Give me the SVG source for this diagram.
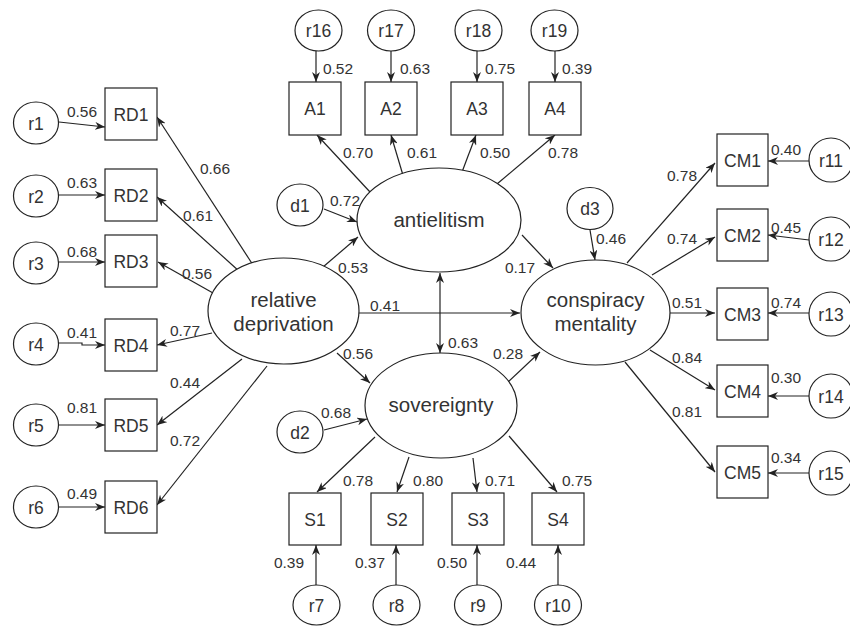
<svg xmlns="http://www.w3.org/2000/svg" width="850" height="627" viewBox="0 0 850 627">
<style>
.b{fill:#fff;stroke:#222;stroke-width:1.2}
.c{fill:none;stroke:#222;stroke-width:1.2;marker-end:url(#a)}
.n{font-family:"Liberation Sans",Arial,sans-serif;font-size:15.5px;fill:#333;text-anchor:middle}
.l{font-family:"Liberation Sans",Arial,sans-serif;font-size:17.5px;fill:#333;text-anchor:middle}
.g{font-family:"Liberation Sans",Arial,sans-serif;font-size:20.5px;fill:#333;text-anchor:middle}
</style>
<defs>
<marker id="a" viewBox="0 0 10 8" refX="10" refY="4" markerWidth="10" markerHeight="8" markerUnits="userSpaceOnUse" orient="auto-start-reverse">
<path d="M0,0 L10,4 L0,8 L3,4 z" fill="#222"/>
</marker>
</defs>
<rect width="850" height="627" fill="#fff"/>
<g id="connectors">
<path class="c" d="M59,122 L105,127"/>
<path class="c" d="M58,195 L105,195"/>
<path class="c" d="M58,262 L105,262"/>
<path class="c" d="M58,343 L82,343 L82,345 L105,345"/>
<path class="c" d="M58,425 L105,425"/>
<path class="c" d="M58,507 L105,507"/>
<path class="c" d="M253,265 L157,117"/>
<path class="c" d="M240,272 L157,197"/>
<path class="c" d="M213,293 L158,262"/>
<path class="c" d="M212,333 L157,345"/>
<path class="c" d="M242,359 L157,425"/>
<path class="c" d="M267,366 L157,505"/>
<path class="c" d="M316,51 L316,82"/>
<path class="c" d="M391,51 L391,82"/>
<path class="c" d="M477,51 L477,82"/>
<path class="c" d="M555,51 L555,82"/>
<path class="c" d="M370,192 L317,135"/>
<path class="c" d="M405,182 L391,135"/>
<path class="c" d="M462,172 L476,135"/>
<path class="c" d="M497,184 L555,135"/>
<path class="c" d="M324,209 L357,222"/>
<path class="c" d="M323,267 L358,237"/>
<path class="c" d="M359,313 L520,313"/>
<path class="c" d="M337,353 L370,383"/>
<path class="c" d="M440,273 L440,353" marker-start="url(#a)"/>
<path class="c" d="M522,235 L553,268"/>
<path class="c" d="M508,382 L540,352"/>
<path class="c" d="M590,230 L595,260"/>
<path class="c" d="M627,263 L715,163"/>
<path class="c" d="M652,275 L715,237"/>
<path class="c" d="M670,313 L715,313"/>
<path class="c" d="M650,350 L715,390"/>
<path class="c" d="M625,362 L715,472"/>
<path class="c" d="M809,161 L768,161"/>
<path class="c" d="M809,240 L768,235"/>
<path class="c" d="M809,313 L768,313"/>
<path class="c" d="M809,396 L768,396"/>
<path class="c" d="M809,473 L768,473"/>
<path class="c" d="M324,430 L367,419"/>
<path class="c" d="M375,437 L317,492"/>
<path class="c" d="M409,457 L397,492"/>
<path class="c" d="M473,458 L477,492"/>
<path class="c" d="M509,436 L557,492"/>
<path class="c" d="M316,585 L316,545"/>
<path class="c" d="M396,585 L396,545"/>
<path class="c" d="M477,585 L477,545"/>
<path class="c" d="M558,585 L558,545"/>
</g>
<g id="labels">
<text class="n" x="82" y="116.5">0.56</text>
<text class="n" x="82" y="187.5">0.63</text>
<text class="n" x="82" y="256.5">0.68</text>
<text class="n" x="82" y="337.5">0.41</text>
<text class="n" x="82" y="412.5">0.81</text>
<text class="n" x="82" y="498.5">0.49</text>
<text class="n" x="215" y="173.5">0.66</text>
<text class="n" x="198" y="220.5">0.61</text>
<text class="n" x="197" y="278.5">0.56</text>
<text class="n" x="185" y="335.5">0.77</text>
<text class="n" x="185" y="387.5">0.44</text>
<text class="n" x="185" y="445.5">0.72</text>
<text class="n" x="338" y="73.5">0.52</text>
<text class="n" x="415" y="73.5">0.63</text>
<text class="n" x="500" y="73.5">0.75</text>
<text class="n" x="577" y="73.5">0.39</text>
<text class="n" x="358" y="157.5">0.70</text>
<text class="n" x="422" y="157.5">0.61</text>
<text class="n" x="495" y="157.5">0.50</text>
<text class="n" x="563" y="157.5">0.78</text>
<text class="n" x="345" y="205.5">0.72</text>
<text class="n" x="353" y="272.5">0.53</text>
<text class="n" x="385" y="310.5">0.41</text>
<text class="n" x="358" y="358.5">0.56</text>
<text class="n" x="463" y="347.5">0.63</text>
<text class="n" x="520" y="272.5">0.17</text>
<text class="n" x="508" y="358.5">0.28</text>
<text class="n" x="611" y="243.5">0.46</text>
<text class="n" x="682" y="180.5">0.78</text>
<text class="n" x="682" y="243.5">0.74</text>
<text class="n" x="687" y="307.5">0.51</text>
<text class="n" x="687" y="362.5">0.84</text>
<text class="n" x="687" y="416.5">0.81</text>
<text class="n" x="786" y="154.5">0.40</text>
<text class="n" x="786" y="232.5">0.45</text>
<text class="n" x="786" y="307.5">0.74</text>
<text class="n" x="786" y="382.5">0.30</text>
<text class="n" x="786" y="462.5">0.34</text>
<text class="n" x="336" y="417.5">0.68</text>
<text class="n" x="358" y="485.5">0.78</text>
<text class="n" x="428" y="485.5">0.80</text>
<text class="n" x="500" y="485.5">0.71</text>
<text class="n" x="577" y="485.5">0.75</text>
<text class="n" x="289" y="567.5">0.39</text>
<text class="n" x="370" y="567.5">0.37</text>
<text class="n" x="452" y="567.5">0.50</text>
<text class="n" x="521" y="567.5">0.44</text>
</g>
<g id="rdep"><ellipse class="b" cx="283.5" cy="311" rx="75.5" ry="53"/><text class="g" x="283.5" y="307">relative</text><text class="g" x="283.5" y="331">deprivation</text></g>
<g id="anti"><ellipse class="b" cx="439" cy="220" rx="82" ry="52"/><text class="g" x="439" y="227">antielitism</text></g>
<g id="sov"><ellipse class="b" cx="441" cy="405.5" rx="76" ry="52.5"/><text class="g" x="441" y="412">sovereignty</text></g>
<g id="consp"><ellipse class="b" cx="595.5" cy="312.5" rx="74.5" ry="52.5"/><text class="g" x="595.5" y="307">conspiracy</text><text class="g" x="595.5" y="331">mentality</text></g>
<g id="RD1"><rect class="b" x="105" y="88" width="52" height="52"/><text class="l" x="131" y="120.5">RD1</text></g>
<g id="RD2"><rect class="b" x="105" y="169" width="52" height="52"/><text class="l" x="131" y="201.5">RD2</text></g>
<g id="RD3"><rect class="b" x="105" y="235" width="52" height="52"/><text class="l" x="131" y="267.5">RD3</text></g>
<g id="RD4"><rect class="b" x="105" y="319" width="52" height="52"/><text class="l" x="131" y="351.5">RD4</text></g>
<g id="RD5"><rect class="b" x="105" y="399" width="52" height="52"/><text class="l" x="131" y="431.5">RD5</text></g>
<g id="RD6"><rect class="b" x="105" y="481" width="52" height="52"/><text class="l" x="131" y="513.5">RD6</text></g>
<g id="A1"><rect class="b" x="289" y="82" width="52" height="53"/><text class="l" x="315" y="115">A1</text></g>
<g id="A2"><rect class="b" x="365" y="82" width="52" height="53"/><text class="l" x="391" y="115">A2</text></g>
<g id="A3"><rect class="b" x="451" y="82" width="52" height="53"/><text class="l" x="477" y="115">A3</text></g>
<g id="A4"><rect class="b" x="529" y="82" width="52" height="53"/><text class="l" x="555" y="115">A4</text></g>
<g id="CM1"><rect class="b" x="717" y="134" width="51" height="52"/><text class="l" x="742.5" y="166.5">CM1</text></g>
<g id="CM2"><rect class="b" x="717" y="209" width="51" height="52"/><text class="l" x="742.5" y="241.5">CM2</text></g>
<g id="CM3"><rect class="b" x="717" y="288" width="51" height="52"/><text class="l" x="742.5" y="320.5">CM3</text></g>
<g id="CM4"><rect class="b" x="717" y="365" width="51" height="52"/><text class="l" x="742.5" y="397.5">CM4</text></g>
<g id="CM5"><rect class="b" x="717" y="446" width="51" height="52"/><text class="l" x="742.5" y="478.5">CM5</text></g>
<g id="S1"><rect class="b" x="289" y="493" width="52" height="52"/><text class="l" x="315" y="525.5">S1</text></g>
<g id="S2"><rect class="b" x="371" y="493" width="52" height="52"/><text class="l" x="397" y="525.5">S2</text></g>
<g id="S3"><rect class="b" x="452" y="493" width="52" height="52"/><text class="l" x="478" y="525.5">S3</text></g>
<g id="S4"><rect class="b" x="532" y="493" width="52" height="52"/><text class="l" x="558" y="525.5">S4</text></g>
<g id="r1"><ellipse class="b" cx="36" cy="123" rx="22.5" ry="21"/><text class="l" x="36" y="129.5">r1</text></g>
<g id="r2"><ellipse class="b" cx="36" cy="196" rx="22.5" ry="21"/><text class="l" x="36" y="202.5">r2</text></g>
<g id="r3"><ellipse class="b" cx="36" cy="263" rx="22.5" ry="21"/><text class="l" x="36" y="269.5">r3</text></g>
<g id="r4"><ellipse class="b" cx="36" cy="344" rx="22.5" ry="21"/><text class="l" x="36" y="350.5">r4</text></g>
<g id="r5"><ellipse class="b" cx="36" cy="425" rx="22.5" ry="21"/><text class="l" x="36" y="431.5">r5</text></g>
<g id="r6"><ellipse class="b" cx="36" cy="507" rx="22.5" ry="21"/><text class="l" x="36" y="513.5">r6</text></g>
<g id="r16"><ellipse class="b" cx="318.5" cy="30.5" rx="23.5" ry="20.5"/><text class="l" x="318.5" y="37">r16</text></g>
<g id="r17"><ellipse class="b" cx="391" cy="30.5" rx="23.5" ry="20.5"/><text class="l" x="391" y="37">r17</text></g>
<g id="r18"><ellipse class="b" cx="478.5" cy="30.5" rx="23.5" ry="20.5"/><text class="l" x="478.5" y="37">r18</text></g>
<g id="r19"><ellipse class="b" cx="554.5" cy="30.5" rx="23.5" ry="20.5"/><text class="l" x="554.5" y="37">r19</text></g>
<g id="r11"><ellipse class="b" cx="831" cy="160" rx="22" ry="22"/><text class="l" x="831" y="166.5">r11</text></g>
<g id="r12"><ellipse class="b" cx="831" cy="239" rx="22" ry="22"/><text class="l" x="831" y="245.5">r12</text></g>
<g id="r13"><ellipse class="b" cx="831" cy="314" rx="22" ry="22"/><text class="l" x="831" y="320.5">r13</text></g>
<g id="r14"><ellipse class="b" cx="831" cy="396" rx="22" ry="22"/><text class="l" x="831" y="402.5">r14</text></g>
<g id="r15"><ellipse class="b" cx="831" cy="473" rx="22" ry="22"/><text class="l" x="831" y="479.5">r15</text></g>
<g id="r7"><ellipse class="b" cx="316.5" cy="605" rx="23.5" ry="20"/><text class="l" x="316.5" y="611.5">r7</text></g>
<g id="r8"><ellipse class="b" cx="396.5" cy="605" rx="23.5" ry="20"/><text class="l" x="396.5" y="611.5">r8</text></g>
<g id="r9"><ellipse class="b" cx="478" cy="605" rx="23.5" ry="20"/><text class="l" x="478" y="611.5">r9</text></g>
<g id="r10"><ellipse class="b" cx="558" cy="605" rx="23.5" ry="20"/><text class="l" x="558" y="611.5">r10</text></g>
<g id="d1"><ellipse class="b" cx="300" cy="205" rx="23" ry="21"/><text class="l" x="300" y="211.5">d1</text></g>
<g id="d2"><ellipse class="b" cx="300" cy="432" rx="23" ry="21"/><text class="l" x="300" y="438.5">d2</text></g>
<g id="d3"><ellipse class="b" cx="590" cy="208.5" rx="23" ry="21"/><text class="l" x="590" y="215">d3</text></g>
</svg>
